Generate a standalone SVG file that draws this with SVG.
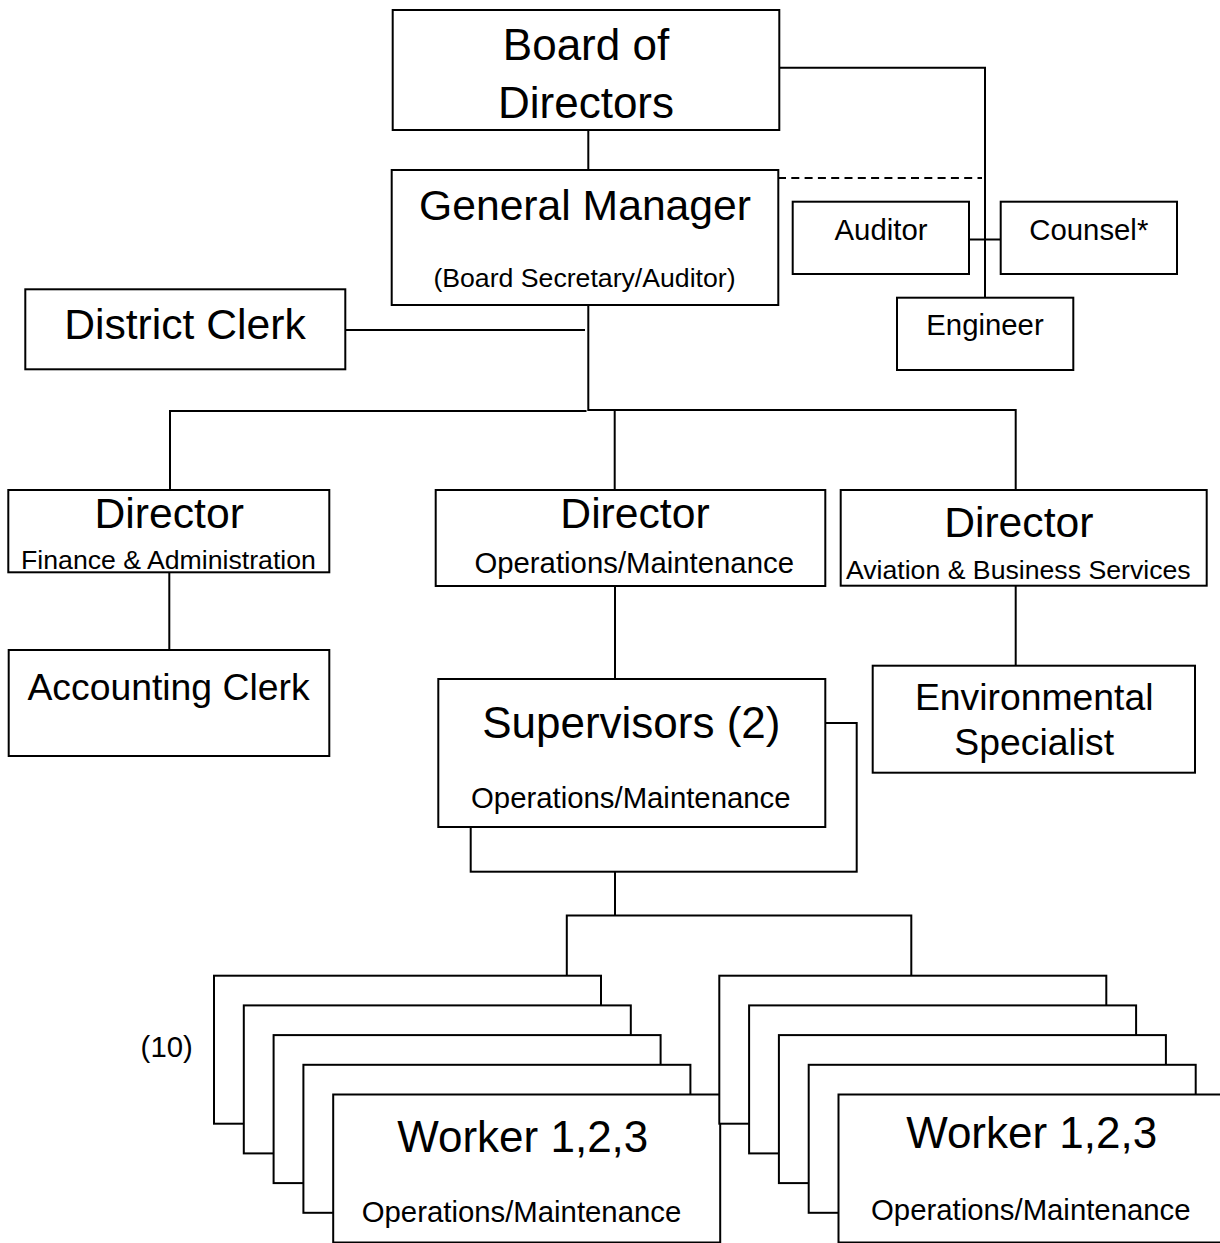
<svg xmlns="http://www.w3.org/2000/svg" width="1220" height="1243" viewBox="0 0 1220 1243">
<style>
  .box { fill: #ffffff; stroke: #000000; stroke-width: 2; }
  .ln { fill: none; stroke: #000000; stroke-width: 2; }
  .dash { fill: none; stroke: #000000; stroke-width: 2; stroke-dasharray: 8 5.3; }
  text { font-family: "Liberation Sans", Arial, sans-serif; fill: #000000; text-anchor: middle; }
  .xl { font-size: 44px; }
  .lg { font-size: 42.67px; }
  .md { font-size: 37.33px; }
  .sm { font-size: 29.33px; }
  .xs { font-size: 26.67px; }
</style>
<rect x="0" y="0" width="1220" height="1243" fill="#ffffff"/>

<g id="connectors">
  <polyline class="ln" points="588.3,130 588.3,170"/>
  <polyline class="ln" points="779,67.7 985,67.7 985,297.7"/>
  <polyline class="dash" points="778,178 982,178"/>
  <polyline class="ln" points="969,239.5 1000.7,239.5"/>
  <polyline class="ln" points="588.3,305 588.3,410 1015.7,410 1015.7,490"/>
  <polyline class="ln" points="586.5,411 170,411 170,490"/>
  <polyline class="ln" points="345.3,330 585,330"/>
  <polyline class="ln" points="614.7,410 614.7,490"/>
  <polyline class="ln" points="169.3,572.3 169.3,650"/>
  <polyline class="ln" points="615,586 615,679"/>
  <polyline class="ln" points="1015.7,586 1015.7,665.7"/>
  <polyline class="ln" points="615,871.7 615,915.5"/>
  <polyline class="ln" points="566.8,975.7 566.8,915.5 911.3,915.5 911.3,975.7"/>
</g>

<g id="board">
  <rect class="box" x="392.7" y="10" width="386.6" height="120"/>
  <text class="xl" x="586" y="60">Board of</text>
  <text class="xl" x="586" y="118">Directors</text>
</g>

<g id="general-manager">
  <rect class="box" x="391.7" y="170" width="386.6" height="135"/>
  <text class="lg" x="585" y="220">General Manager</text>
  <text class="xs" x="584.5" y="287">(Board Secretary/Auditor)</text>
</g>

<g id="auditor">
  <rect class="box" x="792.7" y="201.7" width="176.3" height="72.3"/>
  <text class="sm" x="881" y="240">Auditor</text>
</g>

<g id="counsel">
  <rect class="box" x="1000.7" y="201.7" width="176.3" height="72.3"/>
  <text class="sm" x="1088.8" y="240">Counsel*</text>
</g>

<g id="engineer">
  <rect class="box" x="897" y="297.7" width="176.3" height="72.3"/>
  <text class="sm" x="985" y="335">Engineer</text>
</g>

<g id="district-clerk">
  <rect class="box" x="25.3" y="289.3" width="320" height="80"/>
  <text class="lg" x="185" y="339.3">District Clerk</text>
</g>

<g id="director-finance">
  <rect class="box" x="8.3" y="490" width="321" height="82.3"/>
  <text class="lg" x="169.2" y="527.7">Director</text>
  <text class="xs" x="168.5" y="569.3">Finance &amp; Administration</text>
</g>

<g id="director-operations">
  <rect class="box" x="435.7" y="490" width="389.6" height="96"/>
  <text class="lg" x="635" y="527.7">Director</text>
  <text class="sm" x="634.2" y="572.7">Operations/Maintenance</text>
</g>

<g id="director-aviation">
  <rect class="box" x="840.7" y="490" width="366" height="95.7"/>
  <text class="lg" x="1018.8" y="537.3">Director</text>
  <text class="xs" x="1018.3" y="579.3">Aviation &amp; Business Services</text>
</g>

<g id="accounting-clerk">
  <rect class="box" x="8.7" y="650" width="320.6" height="106"/>
  <text class="md" x="168.5" y="700">Accounting Clerk</text>
</g>

<g id="environmental-specialist">
  <rect class="box" x="872.7" y="665.7" width="322.3" height="107"/>
  <text class="md" x="1034.2" y="710">Environmental</text>
  <text class="md" x="1034.2" y="755">Specialist</text>
</g>

<g id="supervisors">
  <rect class="box" x="470.7" y="723" width="386" height="148.7"/>
  <rect class="box" x="438.3" y="679" width="387" height="148"/>
  <text class="xl" x="631.3" y="738.3">Supervisors (2)</text>
  <text class="sm" x="630.8" y="808.3">Operations/Maintenance</text>
</g>

<g id="workers-left">
  <rect class="box" x="214" y="975.7" width="387" height="148"/>
  <rect class="box" x="243.8" y="1005.4" width="387" height="148"/>
  <rect class="box" x="273.6" y="1035.1" width="387" height="148"/>
  <rect class="box" x="303.4" y="1064.8" width="387" height="148"/>
  <rect class="box" x="333.2" y="1094.5" width="387" height="148"/>
  <text class="xl" x="522.8" y="1151.7">Worker 1,2,3</text>
  <text class="sm" x="521.5" y="1222.3">Operations/Maintenance</text>
</g>

<g id="workers-right">
  <rect class="box" x="719.3" y="975.7" width="387" height="148"/>
  <rect class="box" x="749.1" y="1005.4" width="387" height="148"/>
  <rect class="box" x="778.9" y="1035.1" width="387" height="148"/>
  <rect class="box" x="808.7" y="1064.8" width="387" height="148"/>
  <rect class="box" x="838.5" y="1094.5" width="387" height="148"/>
  <text class="xl" x="1031.7" y="1148.3">Worker 1,2,3</text>
  <text class="sm" x="1030.8" y="1220">Operations/Maintenance</text>
</g>

<g id="count-label">
  <text class="sm" x="166.7" y="1057.3">(10)</text>
</g>
</svg>
